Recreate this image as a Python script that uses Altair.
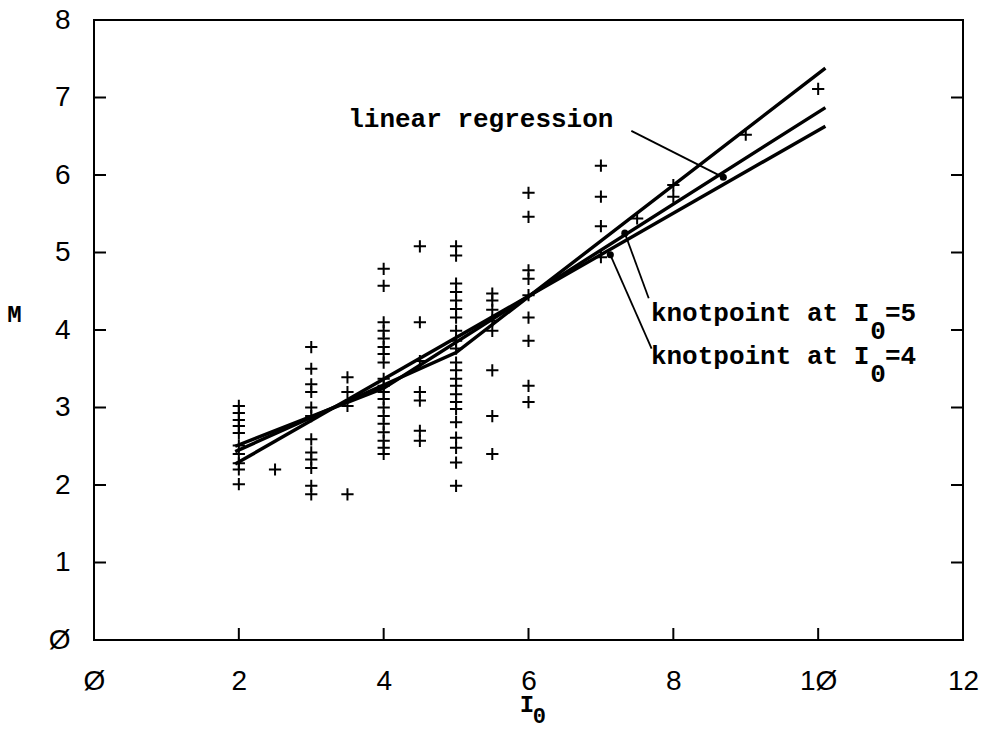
import altair as alt
import pandas as pd

# ---------------- data ----------------
m_at_2 = [3.02, 2.93, 2.84, 2.76, 2.67, 2.51, 2.40, 2.28, 2.20, 2.01]
m_at_2_5 = [2.20]
m_at_3 = [3.78, 3.50, 3.30, 3.20, 3.00, 2.89, 2.59, 2.42, 2.33, 2.22, 1.99, 1.88]
m_at_3_5 = [3.39, 3.20, 3.02, 1.88]
m_at_4 = [4.79, 4.57, 4.10, 3.99, 3.89, 3.78, 3.69, 3.58, 3.37, 3.28, 3.20,
          3.11, 3.00, 2.89, 2.79, 2.68, 2.57, 2.48, 2.40]
m_at_4_5 = [5.08, 4.10, 3.60, 3.20, 3.09, 2.70, 2.57]
m_at_5 = [5.08, 4.96, 4.60, 4.49, 4.38, 4.27, 4.16, 3.99, 3.86, 3.76, 3.58,
          3.48, 3.37, 3.28, 3.17, 3.07, 2.98, 2.81, 2.61, 2.48, 2.29, 1.99]
m_at_5_5 = [4.47, 4.38, 4.26, 4.12, 3.99, 3.48, 2.89, 2.40]
m_at_6 = [5.77, 5.46, 4.77, 4.66, 4.45, 4.16, 3.86, 3.28, 3.07]
m_at_7 = [6.12, 5.72, 5.34, 4.94]
m_at_7_5 = [5.44]
m_at_8 = [5.87, 5.72]
m_at_9 = [6.52]
m_at_10 = [7.11]

# fitted lines
lin_x = [1.95, 10.1]
lin_y = [2.27, 6.63]
knot4_x = [1.95, 4.0, 10.1]
knot4_y = [2.50, 3.25, 6.87]
knot5_x = [1.95, 5.0, 10.1]
knot5_y = [2.43, 3.71, 7.38]

# annotations
note_text = ["linear regression", "knotpoint at I =5", "knotpoint at I =4"]
note_x = [3.51, 7.69, 7.69]
note_y = [6.62, 4.11, 3.56]
sub_x = [10.72, 10.72]
sub_y = [3.88, 3.33]

leader_x1 = [7.42, 7.66, 7.70]
leader_y1 = [6.57, 4.41, 3.76]
leader_x2 = [8.69, 7.33, 7.13]
leader_y2 = [5.97, 5.25, 4.97]

x_tick_values = [0, 2, 4, 6, 8, 10, 12]
y_tick_values = [0, 1, 2, 3, 4, 5, 6, 7, 8]

# ---------------- tables ----------------
groups = [(2, m_at_2), (2.5, m_at_2_5), (3, m_at_3), (3.5, m_at_3_5),
          (4, m_at_4), (4.5, m_at_4_5), (5, m_at_5), (5.5, m_at_5_5),
          (6, m_at_6), (7, m_at_7), (7.5, m_at_7_5), (8, m_at_8),
          (9, m_at_9), (10, m_at_10)]
pts = pd.DataFrame([{"x": gx, "y": m} for gx, ms in groups for m in ms])

lines = pd.DataFrame(
    [{"s": "linear", "o": i, "x": a, "y": b} for i, (a, b) in enumerate(zip(lin_x, lin_y))]
    + [{"s": "knot4", "o": i, "x": a, "y": b} for i, (a, b) in enumerate(zip(knot4_x, knot4_y))]
    + [{"s": "knot5", "o": i, "x": a, "y": b} for i, (a, b) in enumerate(zip(knot5_x, knot5_y))]
)
notes = pd.DataFrame({"t": note_text, "x": note_x, "y": note_y})
subs = pd.DataFrame({"t": ["0", "0"], "x": sub_x, "y": sub_y})
leaders = pd.DataFrame({"x": leader_x1, "y": leader_y1, "x2": leader_x2, "y2": leader_y2})
ttl = pd.DataFrame({"t": ["M", "I", "0"], "x": [-1.1, 5.98, 6.15], "y": [4.1, -0.93, -1.07],
                    "fs": [24, 24, 22]})
xt = pd.DataFrame({"x": x_tick_values[1:-1]})
yt = pd.DataFrame({"y": y_tick_values[1:-1]})

W, H = 869, 620
TICK = 12

xs = alt.Scale(domain=[0, 12], nice=False, zero=False)
ys = alt.Scale(domain=[0, 8], nice=False, zero=False)

label_expr = "replace(datum.label, '0', 'Ø')"
xaxis = alt.Axis(values=x_tick_values, ticks=False, domain=False, grid=False,
                 labelFont="Liberation Sans", labelFontSize=28, labelColor="black",
                 labelPadding=27, labelExpr=label_expr, labelFlush=False,
                 labelOverlap=False, title=None)
yaxis = alt.Axis(values=y_tick_values, ticks=False, domain=False, grid=False,
                 labelFont="Liberation Sans", labelFontSize=28, labelColor="black",
                 labelPadding=24, labelExpr=label_expr, labelFlush=False,
                 labelOverlap=False, title=None)

X = alt.X("x:Q", scale=xs, axis=xaxis)
Y = alt.Y("y:Q", scale=ys, axis=yaxis)

plus_path = "M-1,0L1,0M0,-1L0,1"

points = alt.Chart(pts).mark_point(
    shape=plus_path, size=150, color="black", strokeWidth=2, filled=False, opacity=1
).encode(x=X, y=Y)

fit = alt.Chart(lines).mark_line(color="black", strokeWidth=3.4).encode(
    x=X, y=Y, detail="s:N", order="o:Q")

leader = alt.Chart(leaders).mark_rule(color="black", strokeWidth=1.8).encode(
    x=X, y=Y, x2="x2:Q", y2="y2:Q")
heads = alt.Chart(leaders).mark_point(
    shape="circle", size=50, filled=True, color="black", opacity=1
).encode(x=alt.X("x2:Q", scale=xs, axis=xaxis), y=alt.Y("y2:Q", scale=ys, axis=yaxis))

note_marks = alt.Chart(notes).mark_text(
    font="Liberation Mono", fontSize=26, fontWeight="bold", align="left",
    baseline="alphabetic", color="black"
).encode(x=X, y=Y, text="t:N")
sub_marks = alt.Chart(subs).mark_text(
    font="Liberation Mono", fontSize=26, fontWeight="bold", align="left",
    baseline="alphabetic", color="black"
).encode(x=X, y=Y, text="t:N")

title_marks = alt.Chart(ttl).mark_text(
    font="Liberation Mono", fontWeight="bold", align="center", baseline="alphabetic",
    color="black"
).encode(x=X, y=Y, text="t:N", size=alt.Size("fs:Q", scale=None, legend=None))

# inward ticks
ticks_bottom = alt.Chart(xt).mark_rule(color="black", strokeWidth=2).encode(
    x=X, y=alt.value(H), y2=alt.value(H - TICK))
ticks_left = alt.Chart(yt).mark_rule(color="black", strokeWidth=2).encode(
    y=Y, x=alt.value(0), x2=alt.value(TICK))
ticks_right = alt.Chart(yt).mark_rule(color="black", strokeWidth=2).encode(
    y=Y, x=alt.value(W), x2=alt.value(W - TICK))

chart = alt.layer(
    points, fit, leader, heads, note_marks, sub_marks, title_marks,
    ticks_bottom, ticks_left, ticks_right
).properties(
    width=W, height=H,
    autosize=alt.AutoSizeParams(type="none"),
    padding={"left": 94, "top": 20, "right": 21, "bottom": 92},
    background="white",
).configure_view(stroke="black", strokeWidth=2)

chart.save("out.html", embed_options={"renderer": "svg", "actions": False})
